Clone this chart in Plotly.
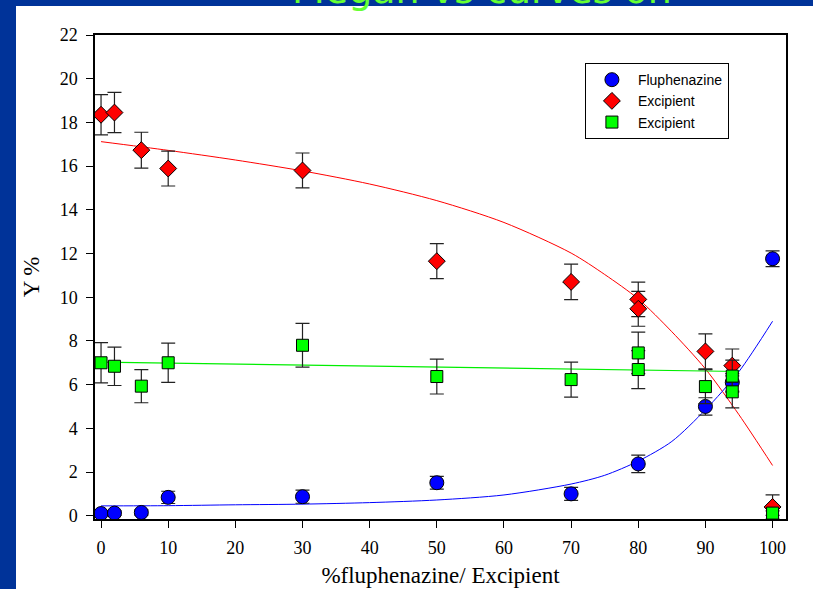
import plotly.graph_objects as go

# ---- data ----
flu_x = [0, 2, 6, 10, 30, 50, 70, 80, 90, 94, 100]
flu_y = [0.10, 0.12, 0.15, 0.84, 0.87, 1.51, 1.00, 2.37, 5.00, 6.10, 11.76]
flu_err = [0.10, 0.10, 0.12, 0.28, 0.30, 0.29, 0.30, 0.40, 0.40, 0.40, 0.36]

exc1_x = [0, 2, 6, 10, 30, 50, 70, 80, 80, 90, 94, 100]
exc1_y = [18.35, 18.45, 16.73, 15.89, 15.80, 11.65, 10.70, 9.90, 9.47, 7.52, 6.87, 0.40]
exc1_err = [0.92, 0.92, 0.82, 0.80, 0.80, 0.80, 0.81, 0.79, 0.80, 0.80, 0.76, 0.55]

exc2_x = [0, 2, 6, 10, 30, 50, 70, 80, 80, 90, 94, 94, 100]
exc2_y = [7.00, 6.84, 5.93, 7.00, 7.80, 6.37, 6.23, 7.45, 6.69, 5.91, 6.39, 5.67, 0.12]
exc2_err = [0.92, 0.88, 0.76, 0.90, 1.00, 0.80, 0.80, 0.95, 0.87, 0.78, 0.73, 0.73, 0.10]

# fitted curves
fit_red_x = [0, 10, 20, 30, 40, 50, 60, 70, 75, 80, 85, 90, 95, 100]
fit_red_y = [17.12, 16.72, 16.28, 15.78, 15.18, 14.42, 13.42, 12.02, 11.04, 9.92, 8.42, 6.72, 4.62, 2.30]
fit_blue_x = [0, 10, 20, 30, 40, 50, 60, 70, 75, 80, 85, 90, 95, 100]
fit_blue_y = [0.45, 0.46, 0.50, 0.53, 0.60, 0.72, 0.95, 1.45, 1.85, 2.50, 3.40, 4.85, 6.60, 8.90]
fit_green_x = [0, 95]
fit_green_y = [7.03, 6.60]

x_ticks = [0, 10, 20, 30, 40, 50, 60, 70, 80, 90, 100]
y_ticks = [0, 2, 4, 6, 8, 10, 12, 14, 16, 18, 20, 22]

fig = go.Figure()

fig.add_trace(go.Scatter(x=fit_red_x, y=fit_red_y, mode="lines",
                         line=dict(color="#ff0000", width=1, shape="spline", smoothing=0.8),
                         showlegend=False, hoverinfo="skip"))
fig.add_trace(go.Scatter(x=fit_blue_x, y=fit_blue_y, mode="lines",
                         line=dict(color="#0000ff", width=1, shape="spline", smoothing=0.8),
                         showlegend=False, hoverinfo="skip"))
fig.add_trace(go.Scatter(x=fit_green_x, y=fit_green_y, mode="lines", line=dict(color="#00ee00", width=1.2),
                         showlegend=False, hoverinfo="skip"))

eb = dict(type="data", color="#222222", thickness=1.2, width=7)

fig.add_trace(go.Scatter(x=flu_x, y=flu_y, mode="markers", name="Fluphenazine",
                         error_y=dict(array=flu_err, **eb),
                         marker=dict(symbol="circle", size=14, color="#0000ff", line=dict(color="black", width=1))))
fig.add_trace(go.Scatter(x=exc1_x, y=exc1_y, mode="markers", name="Excipient",
                         error_y=dict(array=exc1_err, **eb),
                         marker=dict(symbol="diamond", size=13, color="#ff0000", line=dict(color="black", width=1))))
fig.add_trace(go.Scatter(x=exc2_x, y=exc2_y, mode="markers", name="Excipient",
                         error_y=dict(array=exc2_err, **eb),
                         marker=dict(symbol="square", size=12, color="#00ff00", line=dict(color="black", width=1))))

serif = "Liberation Serif, Times New Roman, serif"
blue_bg = "#003399"

fig.update_layout(
    width=813, height=589,
    margin=dict(l=95, r=27, t=35, b=70),
    paper_bgcolor="white",
    plot_bgcolor="white",
    font=dict(family=serif, size=18, color="black"),
    showlegend=True,
    legend=dict(x=0.709, y=0.942, xanchor="left", yanchor="top",
                bgcolor="white", bordercolor="black", borderwidth=1,
                font=dict(family="Liberation Sans, Arial, sans-serif", size=14, color="black"),
                tracegroupgap=0, itemsizing="trace", itemwidth=42),
    xaxis=dict(range=[-0.9, 102], tickvals=x_ticks, ticks="outside", ticklen=7, tickwidth=1.2,
               tickcolor="black", showline=True, linecolor="black", linewidth=1.5, mirror=True,
               showgrid=False, zeroline=False, ticklabelstandoff=5, automargin=False,
               title=dict(text="%fluphenazine/ Excipient", font=dict(family=serif, size=23), standoff=10)),
    yaxis=dict(range=[-0.15, 22], tickvals=y_ticks, ticks="outside", ticklen=7, tickwidth=1.2,
               tickcolor="black", showline=True, linecolor="black", linewidth=1.5, mirror=True,
               showgrid=False, zeroline=False, ticklabelstandoff=5, automargin=False,
               title=dict(text="Y %", font=dict(family=serif, size=23), standoff=14)),
    shapes=[
        dict(type="rect", xref="paper", yref="paper", x0=-0.3, x1=(16 - 95) / 691, y0=-0.3, y1=1.2,
             fillcolor=blue_bg, line=dict(width=0), layer="below"),
        dict(type="rect", xref="paper", yref="paper", x0=-0.3, x1=1.2, y0=(519 - 6) / 484, y1=1.2,
             fillcolor=blue_bg, line=dict(width=0), layer="below"),
    ],
    annotations=[dict(text="Megan vs curves on", xref="paper", yref="paper", x=(290 - 95) / 691, y=1.0434,
                      xanchor="left", yanchor="bottom", showarrow=False,
                      font=dict(family="DejaVu Sans, Verdana, sans-serif", size=38, color="#66ff33"))],
)

fig.write_html("out.html")
